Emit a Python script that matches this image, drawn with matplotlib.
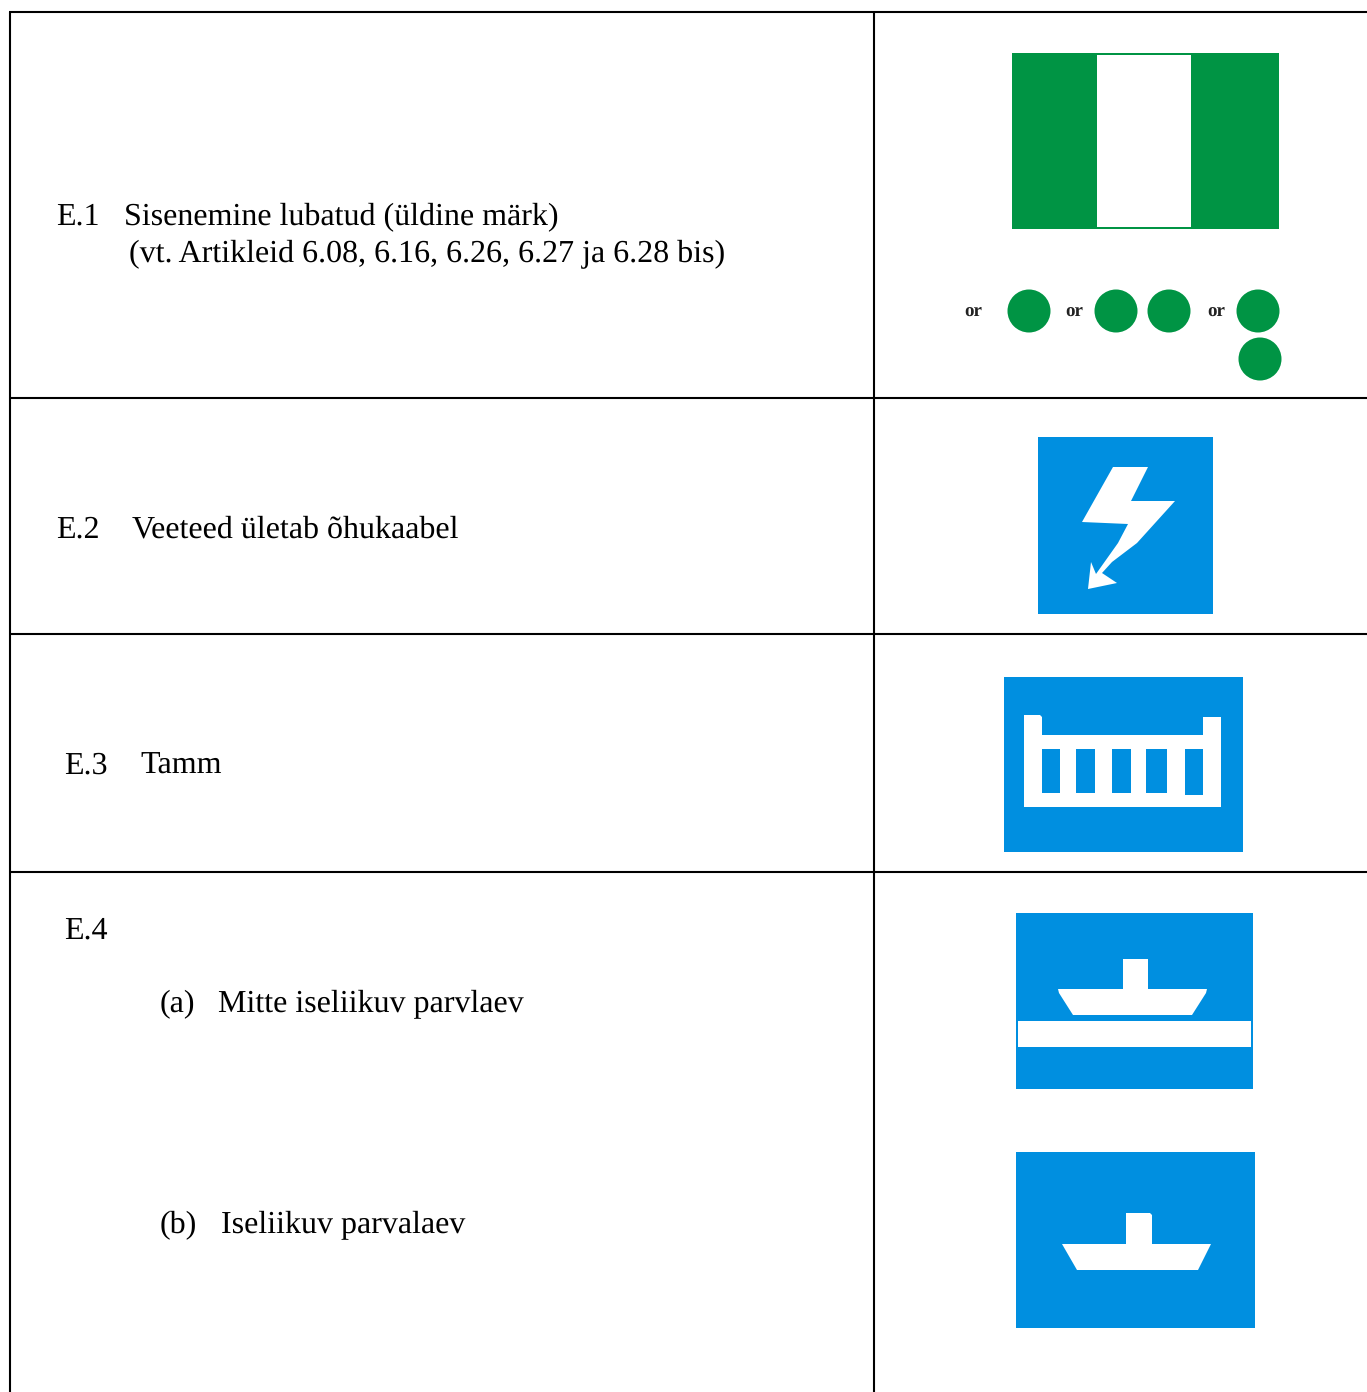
import matplotlib
matplotlib.use("Agg")
import matplotlib.pyplot as plt
from matplotlib.patches import Circle, Polygon, Rectangle

plt.rcParams["text.hinting"] = "none"
plt.rcParams["text.hinting_factor"] = 1

GREEN = "#009444"
BLUE = "#008fe0"

# table grid
v_lines = [10, 874]
h_lines = [12, 398, 634, 872]

# text pieces: x, baseline y, string
labels = [
    (56, 225, "E.1"),
    (124, 225, "Sisenemine lubatud (üldine märk)"),
    (129, 262, "(vt. Artikleid 6.08, 6.16, 6.26, 6.27 ja 6.28 bis)"),
    (56, 538, "E.2"),
    (132, 538, "Veeteed ületab õhukaabel"),
    (64, 774, "E.3"),
    (140, 774, "Tamm"),
    (64, 939, "E.4"),
    (160, 1012, "(a)"),
    (218, 1012, "Mitte iseliikuv parvlaev"),
    (160, 1233, "(b)"),
    (221, 1233, "Iseliikuv parvalaev"),
]

# signs
green_panel = (1012, 53, 267, 176)
white_stripe = (1097, 55, 94, 172)
green_dots = [(1029, 311), (1116, 311), (1169, 311), (1258, 311), (1260, 359)]
or_labels = [(973, 311), (1074, 311), (1216, 311)]
blue_boxes = [
    (1038, 437, 175, 177),
    (1004, 677, 239, 175),
    (1016, 913, 237, 176),
    (1016, 1152, 239, 176),
]
bolt = [(1113, 467), (1148, 467), (1131, 501), (1175, 501), (1137, 543), (1112, 562),
        (1102, 573), (1117, 583), (1088, 589), (1091, 562), (1096, 574), (1118, 543),
        (1128, 524), (1082, 522)]
dam = [(1024, 715), (1040, 715), (1042, 717), (1042, 735), (1203, 735), (1203, 717),
       (1221, 717), (1221, 807), (1024, 807)]
dam_windows = [(1042, 749, 18, 44), (1076, 749, 19, 44), (1112, 749, 19, 44),
               (1146, 749, 21, 44), (1185, 749, 18, 46)]
ferry_bar = (1018, 1021, 233, 26)
ship_a = [(1123, 959), (1148, 959), (1148, 989), (1207, 989), (1206, 993), (1192, 1015),
          (1073, 1015), (1059, 993), (1058, 989), (1123, 989)]
ship_b = [(1126, 1213), (1150, 1213), (1152, 1215), (1152, 1244), (1211, 1244), (1198, 1270),
          (1077, 1270), (1062, 1244), (1126, 1244)]

fig = plt.figure(figsize=(13.67, 13.92), dpi=100)
ax = fig.add_axes([0, 0, 1, 1])
ax.set_xlim(0, 1367)
ax.set_ylim(1392, 0)
ax.axis("off")

for x in v_lines:
    ax.plot([x, x], [h_lines[0], 1392], color="black", lw=1.5, solid_capstyle="butt")
for y in h_lines:
    ax.plot([v_lines[0] - 1, 1367], [y, y], color="black", lw=1.5, solid_capstyle="butt")

for x, y, s in labels:
    ax.text(x, y, s, family="Liberation Serif", fontsize=23.05, va="baseline", ha="left", color="black")

# E.1
ax.add_patch(Rectangle(green_panel[:2], green_panel[2], green_panel[3], fc=GREEN, ec="none"))
ax.add_patch(Rectangle(white_stripe[:2], white_stripe[2], white_stripe[3], fc="white", ec="none"))
for x, y in green_dots:
    ax.add_patch(Circle((x, y), 21.5, fc=GREEN, ec="none"))
for x, y in or_labels:
    ax.text(x, y, "or", family="Liberation Serif", fontsize=14, fontweight="bold",
            ha="center", va="center", color="#222222")

# blue signs
for x, y, w, h in blue_boxes:
    ax.add_patch(Rectangle((x, y), w, h, fc=BLUE, ec="none"))
for shape in [bolt, dam, ship_a, ship_b]:
    ax.add_patch(Polygon(shape, closed=True, fc="white", ec="none"))
for x, y, w, h in dam_windows:
    ax.add_patch(Rectangle((x, y), w, h, fc=BLUE, ec="none"))
ax.add_patch(Rectangle(ferry_bar[:2], ferry_bar[2], ferry_bar[3], fc="white", ec="none"))

fig.savefig("out.png", dpi=100, facecolor="white")
